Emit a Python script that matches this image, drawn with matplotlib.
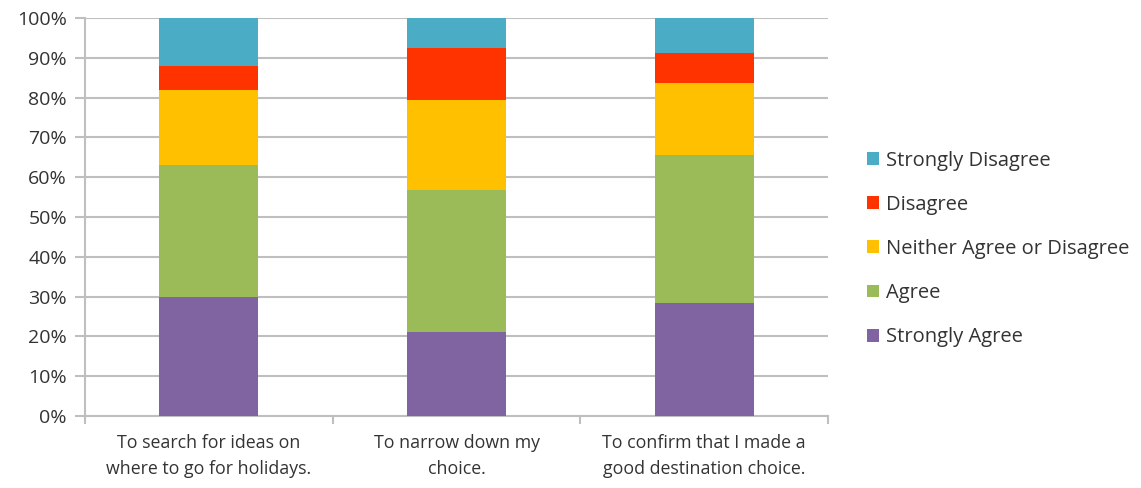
import matplotlib
matplotlib.use("Agg")
import matplotlib.pyplot as plt
import numpy as np
from matplotlib.ticker import FuncFormatter, FixedLocator

categories = ["To search for ideas on\nwhere to go for holidays.",
              "To narrow down my\nchoice.",
              "To confirm that I made a\ngood destination choice."]
series_names = ["Strongly Agree", "Agree", "Neither Agree or Disagree", "Disagree", "Strongly Disagree"]
strongly_agree = [30.0, 21.0, 28.4]
agree = [33.0, 35.7, 37.2]
neither = [19.0, 22.6, 18.1]
disagree = [6.0, 13.3, 7.5]
strongly_disagree = [12.0, 7.4, 8.8]
colors = ["#8064a2", "#9bbb59", "#ffc000", "#ff3300", "#4bacc6"]

plt.rcParams['font.family'] = ['Open Sans', 'DejaVu Sans']
txt = "#333333"

fig = plt.figure(figsize=(11.41, 4.88), dpi=100)
ax = fig.add_axes([0.0745, 0.1475, 0.6512, 0.8155])

x = np.arange(len(categories))
bottom = np.zeros(len(categories))
bars = []
for name, vals, c in zip(series_names,
                         [strongly_agree, agree, neither, disagree, strongly_disagree],
                         colors):
    b = ax.bar(x, vals, width=0.4, bottom=bottom, color=c, label=name, zorder=3)
    bars.append(b)
    bottom += np.array(vals)

ax.set_xlim(-0.5, 2.5)
ax.set_ylim(0, 100)
ax.set_yticks(np.arange(0, 101, 10))
ax.yaxis.set_major_formatter(FuncFormatter(lambda v, p: f"{int(v)}%"))
ax.yaxis.grid(True, color="#bfbfbf", linewidth=1.5, zorder=0)
ax.tick_params(axis='y', length=7, color="#bfbfbf", width=1.5, labelsize=14, labelcolor=txt, pad=6)

ax.set_xticks(x)
ax.set_xticklabels(categories, fontsize=12.8, color=txt, linespacing=1.55)
ax.tick_params(axis='x', length=0, pad=13)
ax.xaxis.set_minor_locator(FixedLocator([-0.5, 0.5, 1.5, 2.5]))
ax.tick_params(axis='x', which='minor', length=6, color="#bfbfbf", width=1.5)

for s in ["top", "right"]:
    ax.spines[s].set_visible(False)
for s in ["left", "bottom"]:
    ax.spines[s].set_color("#bfbfbf")
    ax.spines[s].set_linewidth(1.5)

handles = [bars[i] for i in range(4, -1, -1)]
labels = [series_names[i] for i in range(4, -1, -1)]
leg = fig.legend(handles, labels, loc="center left", bbox_to_anchor=(0.744, 0.49),
                 frameon=False, fontsize=14.5, handlelength=0.6, handleheight=0.6,
                 handletextpad=0.35, labelspacing=1.2, labelcolor=txt)

fig.savefig("out.png", dpi=100)
